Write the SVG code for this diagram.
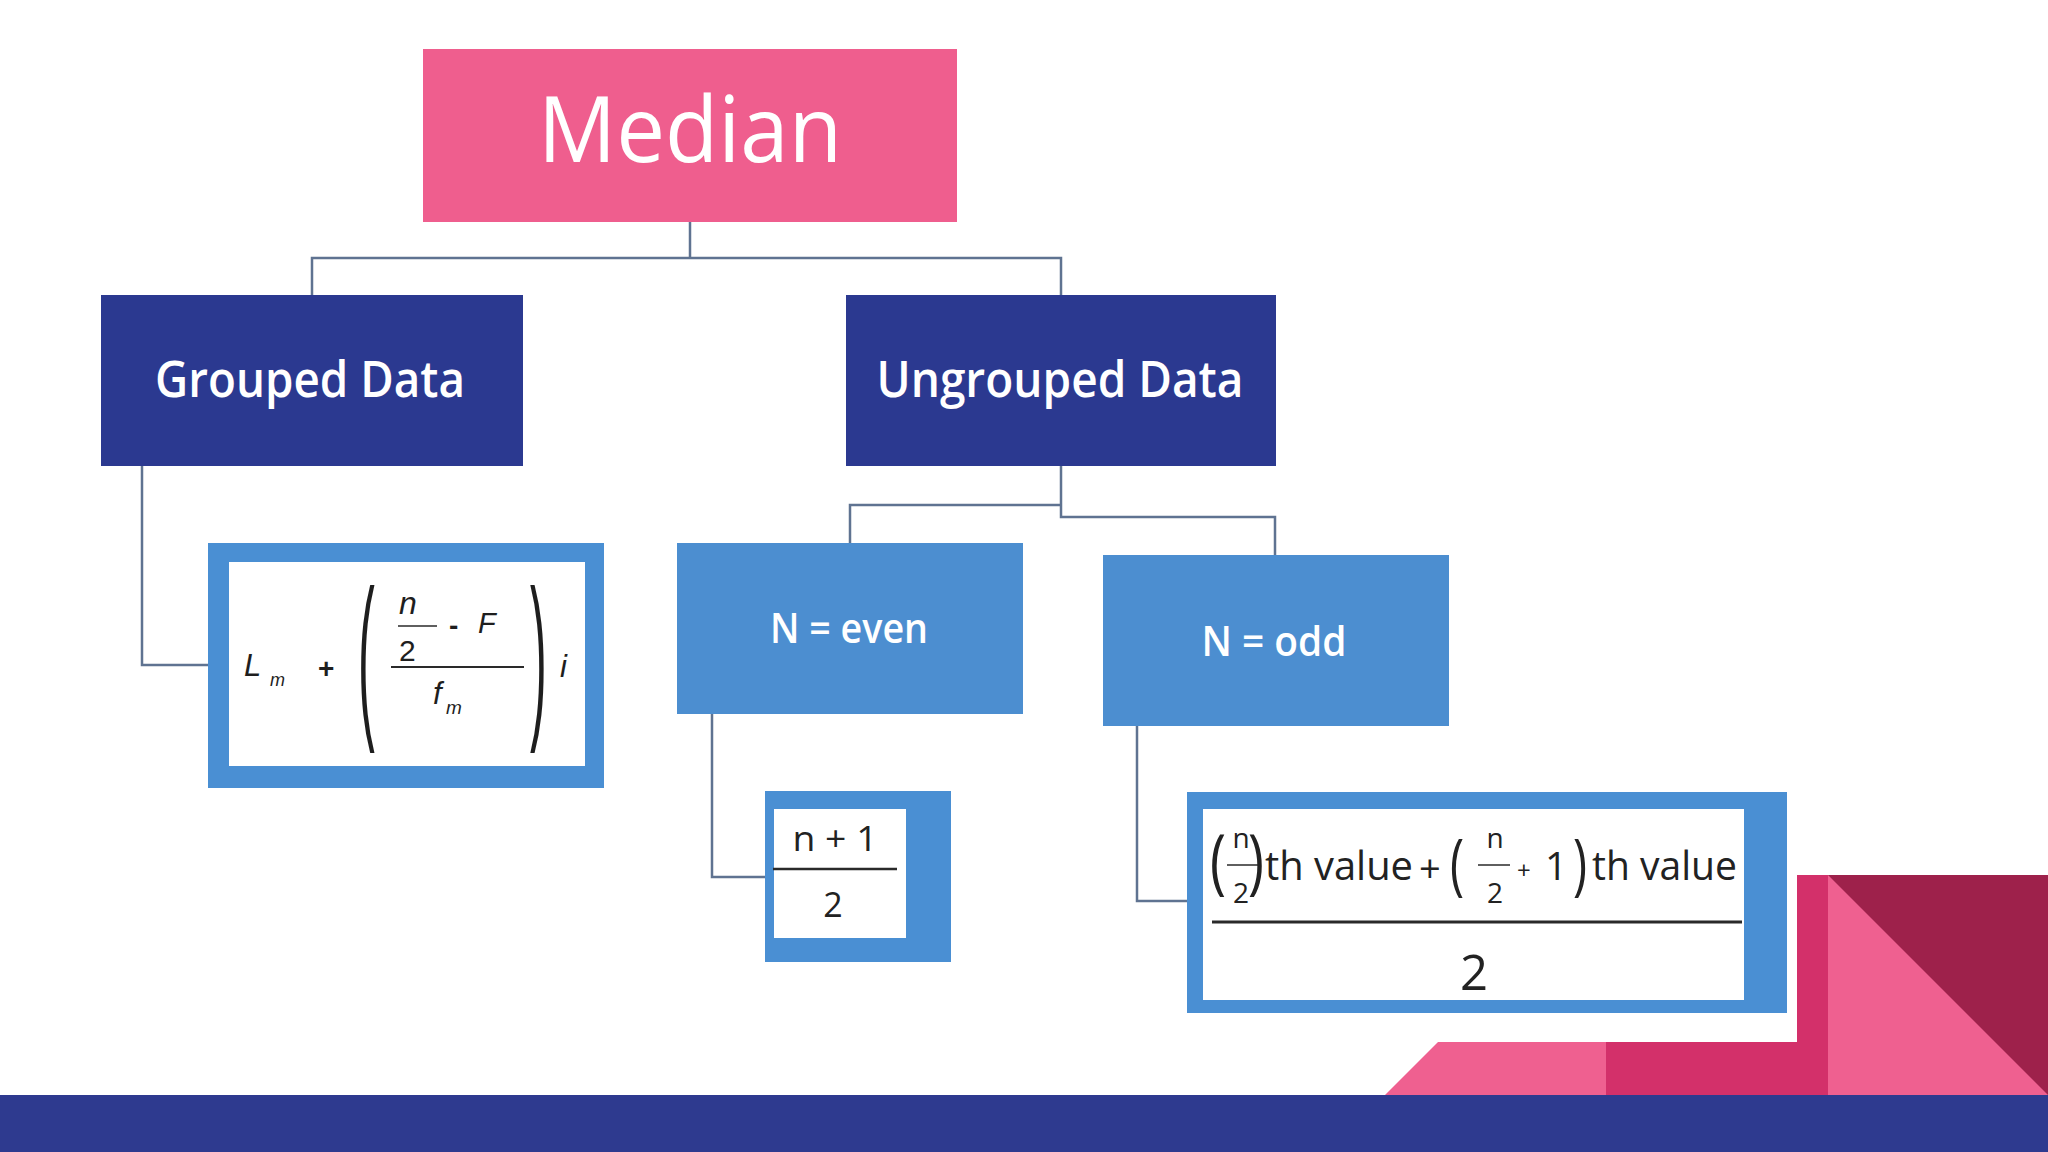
<svg xmlns="http://www.w3.org/2000/svg" width="2048" height="1152" viewBox="0 0 2048 1152">
<defs>
<style>
.conn{fill:none;stroke:#5f7391;stroke-width:2.5}
.lbl{font-family:"Open Sans","Noto Sans",sans-serif;fill:#ffffff;text-anchor:middle}
.f{font-family:"Liberation Sans",Arial,sans-serif;fill:#1e1e1e}
.fi{font-family:"Liberation Sans",Arial,sans-serif;font-style:italic;fill:#1e1e1e}
.c{font-family:"Open Sans","Noto Sans",sans-serif;fill:#222222}
.bar{stroke:#2a2a2a;fill:none}
.outer{fill:#4a8fd3}
.inner{fill:#ffffff}
</style>
</defs>
<rect width="2048" height="1152" fill="#ffffff"/>

<g id="connectors">
<polyline class="conn" points="690,222 690,258"/>
<polyline class="conn" points="312,295 312,258 1061,258 1061,295"/>
<polyline class="conn" points="142,466 142,665 208,665"/>
<polyline class="conn" points="1061,466 1061,517 1275,517 1275,555"/>
<polyline class="conn" points="1061,505 850,505 850,543"/>
<polyline class="conn" points="712,714 712,877 765,877"/>
<polyline class="conn" points="1137,726 1137,901 1187,901"/>
</g>

<g id="median">
<rect x="423" y="49" width="534" height="173" fill="#ef5e8e"/>
<text class="lbl" x="690" y="162" font-size="92" textLength="304" lengthAdjust="spacingAndGlyphs">Median</text>
</g>

<g id="grouped">
<rect x="101" y="295" width="422" height="171" fill="#2b3990"/>
<text class="lbl" x="310" y="397" font-size="50" font-weight="600" textLength="310" lengthAdjust="spacingAndGlyphs">Grouped Data</text>
</g>

<g id="ungrouped">
<rect x="846" y="295" width="430" height="171" fill="#2b3990"/>
<text class="lbl" x="1060" y="397" font-size="50" font-weight="600" textLength="367" lengthAdjust="spacingAndGlyphs">Ungrouped Data</text>
</g>

<g id="n-even">
<rect x="677" y="543" width="346" height="171" fill="#4c8ed0"/>
<text class="lbl" x="849" y="643" font-size="41" font-weight="600" textLength="158" lengthAdjust="spacingAndGlyphs">N = even</text>
</g>

<g id="n-odd">
<rect x="1103" y="555" width="346" height="171" fill="#4c8ed0"/>
<text class="lbl" x="1274" y="656" font-size="41" font-weight="600" textLength="145" lengthAdjust="spacingAndGlyphs">N = odd</text>
</g>

<g id="grouped-formula">
<rect class="outer" x="208" y="543" width="396" height="245"/>
<rect class="inner" x="229" y="562" width="356" height="204"/>
<text class="fi" x="244" y="676" font-size="31">L</text>
<text class="fi" x="270" y="686" font-size="18">m</text>
<text class="f" x="318" y="678" font-size="28" font-weight="bold">+</text>
<text class="f" transform="translate(358,716) scale(0.28,1)" font-size="180">(</text>
<text class="fi" x="399" y="614" font-size="32">n</text>
<line class="bar" x1="398" y1="626" x2="437" y2="626" stroke-width="1.5"/>
<text class="f" x="399" y="661" font-size="30">2</text>
<text class="f" x="449" y="635" font-size="28" font-weight="bold">-</text>
<text class="fi" x="478" y="633" font-size="29">F</text>
<line class="bar" x1="391" y1="667" x2="524" y2="667" stroke-width="2"/>
<text class="fi" x="433" y="704" font-size="31">f</text>
<text class="fi" x="446" y="714" font-size="19">m</text>
<text class="f" transform="translate(530,716) scale(0.28,1)" font-size="180">)</text>
<text class="fi" x="560" y="677" font-size="31">i</text>
</g>

<g id="even-formula">
<rect class="outer" x="765" y="791" width="186" height="171"/>
<rect class="inner" x="774" y="809" width="132" height="129"/>
<text class="c" x="835" y="851" font-size="34" text-anchor="middle" textLength="85" lengthAdjust="spacingAndGlyphs">n + 1</text>
<line class="bar" x1="773" y1="869" x2="897" y2="869" stroke-width="2.5"/>
<text class="c" x="833" y="917" font-size="34" text-anchor="middle">2</text>
</g>

<g id="odd-formula">
<rect class="outer" x="1187" y="792" width="600" height="221"/>
<rect class="inner" x="1203" y="809" width="541" height="191"/>
<text class="c" transform="translate(1210,886) scale(0.75,1)" font-size="72">(</text>
<text class="c" x="1241" y="848" font-size="28" text-anchor="middle">n</text>
<line class="bar" x1="1227" y1="865" x2="1258" y2="865" stroke-width="1.5"/>
<text class="c" x="1241" y="903" font-size="28" text-anchor="middle">2</text>
<text class="c" transform="translate(1248,886) scale(0.75,1)" font-size="72">)</text>
<text class="c" x="1265" y="880" font-size="40" textLength="148" lengthAdjust="spacingAndGlyphs">th value</text>
<text class="c" x="1419" y="882" font-size="38">+</text>
<text class="c" transform="translate(1450,887) scale(0.7,1)" font-size="68">(</text>
<text class="c" x="1495" y="848" font-size="28" text-anchor="middle">n</text>
<line class="bar" x1="1478" y1="865" x2="1510" y2="865" stroke-width="1.5"/>
<text class="c" x="1495" y="903" font-size="28" text-anchor="middle">2</text>
<text class="c" x="1517" y="879" font-size="24">+</text>
<text class="c" x="1545" y="880" font-size="39">1</text>
<text class="c" transform="translate(1573,887) scale(0.7,1)" font-size="68">)</text>
<text class="c" x="1592" y="880" font-size="40" textLength="145" lengthAdjust="spacingAndGlyphs">th value</text>
<line class="bar" x1="1212" y1="922" x2="1742" y2="922" stroke-width="3"/>
<text class="c" x="1474" y="990" font-size="49" text-anchor="middle">2</text>
</g>

<g id="decoration">
<rect x="0" y="1095" width="2048" height="57" fill="#2e3a8f"/>
<polygon points="1385,1095 1438,1042 1606,1042 1606,1095" fill="#ef6090"/>
<polygon points="1606,1042 1797,1042 1797,875 1828,875 1828,1095 1606,1095" fill="#d3306a"/>
<rect x="1828" y="875" width="220" height="220" fill="#ef6090"/>
<polygon points="1828,875 2048,875 2048,1095" fill="#9e214b"/>
</g>
</svg>
